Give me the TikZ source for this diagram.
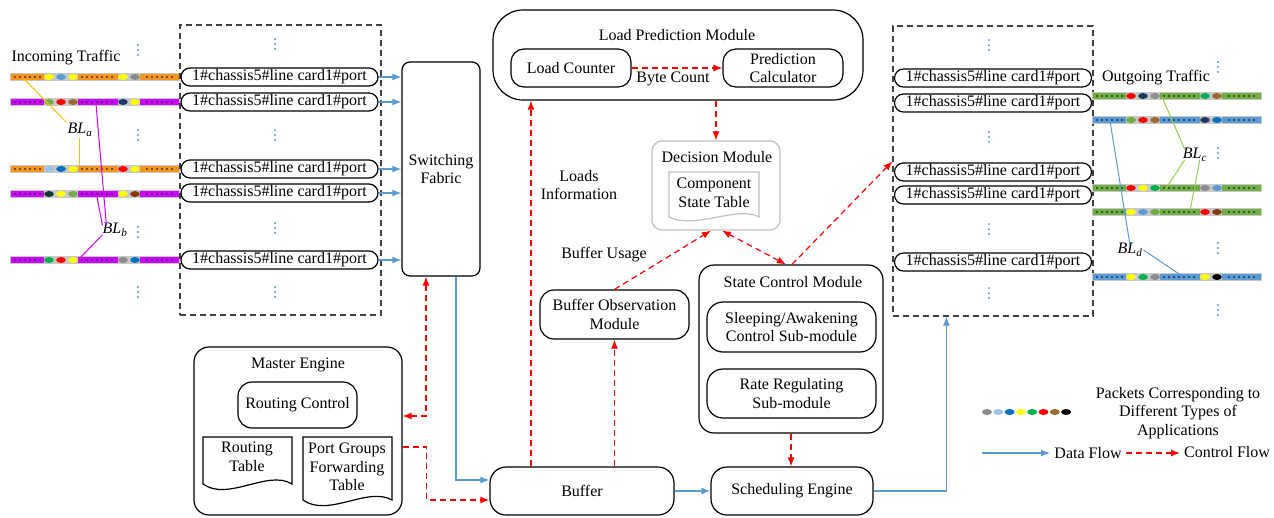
\documentclass[tikz,border=0pt]{standalone}
\usepackage{fontspec}
\setmainfont{Liberation Serif}
\usetikzlibrary{arrows.meta,calc}
\definecolor{dblue}{HTML}{5B9BD5}
\definecolor{cred}{HTML}{FF0000}
\definecolor{barout}{HTML}{C8C8C8}
\definecolor{corange}{HTML}{F7941E}
\definecolor{cpurple}{HTML}{CC00FF}
\definecolor{cgreen}{HTML}{70AD47}
\definecolor{cdgreen}{HTML}{00B050}
\definecolor{cyellow}{HTML}{FFFF00}
\definecolor{clblue}{HTML}{9DC3E6}
\definecolor{cmblue}{HTML}{5B9BD5}
\definecolor{cblue}{HTML}{0070C0}
\definecolor{cgray}{HTML}{8C8C8C}
\definecolor{cbrown}{HTML}{9C6B30}
\definecolor{cdbrown}{HTML}{843C0C}
\definecolor{cnavy}{HTML}{1F3864}
\definecolor{cteal}{HTML}{0D3B2E}
\definecolor{blaorange}{HTML}{FFC000}
\definecolor{blcgreen}{HTML}{92D050}
\definecolor{dashgray}{HTML}{404040}
\definecolor{decgray}{HTML}{BFBFBF}
\newcommand{\tbar}[8]{%
  \fill[barout] (#1,#2-3.6) rectangle (#1+170,#2+3.6);
  \fill[#3] (#1+1,#2-2.6) rectangle (#1+34,#2+2.6);
  \fill[#3] (#1+68,#2-2.6) rectangle (#1+108,#2+2.6);
  \fill[#3] (#1+130,#2-2.6) rectangle (#1+169,#2+2.6);
  \foreach \k in {0,...,5} \fill (#1+5+\k*5,#2) circle (0.9pt);
  \foreach \k in {0,...,6} \fill (#1+72+\k*5,#2) circle (0.9pt);
  \foreach \k in {0,...,5} \fill (#1+137+\k*5,#2) circle (0.9pt);
  \fill[#4] (#1+39,#2) ellipse [x radius=4.8pt, y radius=3pt];
  \fill[#5] (#1+51,#2) ellipse [x radius=4.8pt, y radius=3pt];
  \fill[#6] (#1+63,#2) ellipse [x radius=4.8pt, y radius=3pt];
  \fill[#7] (#1+113,#2) ellipse [x radius=4.8pt, y radius=3pt];
  \fill[#8] (#1+125,#2) ellipse [x radius=4.8pt, y radius=3pt];
}
\newcommand{\vdotsb}[2]{%
  \foreach \k in {-5,0,5} \fill[dblue] (#1,#2+\k) circle (1.1pt);
}
\begin{document}
\begin{tikzpicture}[x=1pt,y=-1pt,
  font=\fontsize{16}{18.5}\selectfont,
  box/.style={draw, line width=1.2pt, rounded corners=#1, align=center, inner sep=0pt},
  box/.default=13pt,
  port/.style={draw, line width=1.2pt, rounded corners=9pt, minimum width=197pt, minimum height=18pt, inner sep=0pt},
  lbl/.style={align=center, inner sep=1pt},
  dbox/.style={draw=dashgray, line width=1.2pt, dash pattern=on 6pt off 4pt, inner sep=0pt},
  data/.style={draw=dblue, line width=1.2pt, -{Latex[length=9pt,width=7pt]}},
  ctrl/.style={draw=cred, line width=1.2pt, dash pattern=on 6pt off 4pt, -{Latex[length=9pt,width=7pt]}},
  ctrlb/.style={draw=cred, line width=1.2pt, dash pattern=on 6pt off 4pt, {Latex[length=9pt,width=7pt]}-{Latex[length=9pt,width=7pt]}},
  docshape/.style={draw, line width=1.2pt},
]
\useasboundingbox (0,0) rectangle (1274,517);

% ---------- incoming traffic ----------
\node[lbl] (intr) at (66,58) {Incoming Traffic};
\vdotsb{138}{50}\vdotsb{138}{135}\vdotsb{138}{232}\vdotsb{138}{292}
\tbar{10}{77}{corange}{cyellow}{cmblue}{cyellow}{cyellow}{cgray}
\tbar{10}{102}{cpurple}{cgreen}{cred}{cbrown}{cnavy}{cyellow}
\tbar{10}{169}{corange}{clblue}{cblue}{cyellow}{cred}{cyellow}
\tbar{10}{194}{cpurple}{cteal}{cyellow}{cgreen}{cyellow}{cdbrown}
\tbar{10}{260}{cpurple}{cdgreen}{cred}{cyellow}{cgray}{cblue}

\node[lbl] (bla) at (80,130) {\itshape BL\textsubscript{a}};
\node[lbl] (blb) at (115,230) {\itshape BL\textsubscript{b}};
\coordinate (ba1) at (23,78);
\coordinate (ba3) at (79,166);
\coordinate (bb2) at (96,104);
\coordinate (bb4) at (97,197);
\coordinate (bb5) at (80,258);
\draw[blaorange, line width=1pt] (ba1) -- (bla.north west);
\draw[blaorange, line width=1pt] ([xshift=-1pt]bla.south) -- (ba3);
\draw[cpurple, line width=1pt] ([xshift=5pt,yshift=-3pt]blb.north west) -- (bb2);
\draw[cpurple, line width=1pt] ([xshift=1pt,yshift=-3pt]blb.north west) -- (bb4);
\draw[cpurple, line width=1pt] ([xshift=1pt,yshift=3pt]blb.south west) -- (bb5);

% ---------- left port box ----------
\node[dbox, minimum width=201pt, minimum height=290pt] (lbox) at (280.5,170) {};
\vdotsb{275}{44}\vdotsb{275}{135}\vdotsb{275}{228}\vdotsb{275}{292}
\node[port] (pl1) at (279.5,77) {1\#chassis5\#line card1\#port};
\node[port] (pl2) at (279.5,102) {1\#chassis5\#line card1\#port};
\node[port] (pl3) at (279.5,169) {1\#chassis5\#line card1\#port};
\node[port] (pl4) at (279.5,193) {1\#chassis5\#line card1\#port};
\node[port] (pl5) at (279.5,260) {1\#chassis5\#line card1\#port};

% ---------- switching fabric ----------
\node[box=8pt, minimum width=78pt, minimum height=214pt] (sf) at (441,169) {Switching\\Fabric};
\foreach \p in {pl1,pl2,pl3,pl4,pl5} \draw[data] (\p.east) -- (\p.east -| sf.west);

% ---------- master engine ----------
\node[box=15pt, minimum width=208pt, minimum height=168pt] (me) at (298,431) {};
\node[lbl] (metitle) at (298,365) {Master Engine};
\node[box=14pt, minimum width=119pt, minimum height=46pt] (rc) at (297.5,405) {Routing Control};
\draw[docshape] (203,437) -- (292,437) -- (292,484) .. controls (268,469) and (228,502) .. (203,484) -- cycle;
\node[lbl] (rt) at (247,457) {Routing\\Table};
\draw[docshape] (303,437) -- (392,437) -- (392,500) .. controls (368,486) and (328,518) .. (303,500) -- cycle;
\node[lbl] (pg) at (347,467) {Port Groups\\Forwarding\\Table};

% ---------- load prediction ----------
\node[box=30pt, minimum width=370pt, minimum height=90pt] (lpm) at (678,55) {};
\node[lbl] (lpmtitle) at (677,35) {Load Prediction Module};
\node[box=13pt, minimum width=120pt, minimum height=38pt] (lc) at (571,68) {Load Counter};
\node[box=13pt, minimum width=120pt, minimum height=38pt] (pc) at (783,68) {Prediction\\Calculator};
\draw[ctrl] (lc.east) -- (pc.west);
\node[lbl] (bc) at (673,79) {Byte Count};

% ---------- decision module ----------
\node[draw=decgray, line width=1.2pt, rounded corners=10pt, minimum width=128pt, minimum height=89pt, inner sep=0pt] (dm) at (716,185.5) {};
\node[lbl] (dmtitle) at (717,157) {Decision Module};
\draw[decgray, line width=1.2pt] (669,172) -- (759,172) -- (759,217) .. controls (738,205) and (695,230) .. (669,217) -- cycle;
\node[lbl] (cst) at (714,193) {Component\\State Table};
\draw[ctrl] (dm.north |- lpm.south) -- (dm.north);

% ---------- buffer, observation, scheduling ----------
\node[box=16pt, minimum width=184pt, minimum height=48pt] (buf) at (582,491) {Buffer};
\node[box=16pt, minimum width=162pt, minimum height=48pt] (sch) at (792,491) {Scheduling Engine};
\node[box=14pt, minimum width=149pt, minimum height=49pt] (bom) at (614.5,314.5) {Buffer Observation\\Module};
\node[lbl] (lil) at (579,185) {Loads\\Information};
\node[lbl] (bul) at (604,255) {Buffer Usage};

% ---------- state control ----------
\node[box=15pt, minimum width=184pt, minimum height=168pt] (scm) at (791,349) {};
\node[lbl] (scmtitle) at (793,282) {State Control Module};
\node[box=16pt, minimum width=169pt, minimum height=50pt] (sa) at (791.5,327) {Sleeping/Awakening\\Control Sub-module};
\node[box=16pt, minimum width=169pt, minimum height=49pt] (rr) at (791.5,393.5) {Rate Regulating\\Sub-module};

% ---------- right port box ----------
\node[dbox, minimum width=200pt, minimum height=290pt] (rbox) at (993,171) {};
\vdotsb{989}{45}\vdotsb{989}{137}\vdotsb{989}{229}\vdotsb{989}{293}
\node[port] (pr1) at (993,78) {1\#chassis5\#line card1\#port};
\node[port] (pr2) at (993,103) {1\#chassis5\#line card1\#port};
\node[port] (pr3) at (993,172) {1\#chassis5\#line card1\#port};
\node[port] (pr4) at (993,195) {1\#chassis5\#line card1\#port};
\node[port] (pr5) at (993,262) {1\#chassis5\#line card1\#port};

% ---------- outgoing traffic ----------
\node[lbl] (outr) at (1156,78) {Outgoing Traffic};
\vdotsb{1218}{67}\vdotsb{1218}{153}\vdotsb{1218}{248}\vdotsb{1218}{310}
\tbar{1092}{96}{cgreen}{cred}{cnavy}{cgray}{cdgreen}{cbrown}
\tbar{1092}{120}{cmblue}{cgreen}{cred}{cbrown}{cnavy}{cblue}
\tbar{1092}{188}{cgreen}{cred}{cyellow}{cdgreen}{cgray}{cmblue}
\tbar{1092}{212}{cgreen}{cyellow}{cmblue}{cgreen}{cred}{cdbrown}
\tbar{1092}{277}{cmblue}{cyellow}{cdgreen}{cgray}{cyellow}{black}

\node[lbl] (blc) at (1195,155) {\itshape BL\textsubscript{c}};
\node[lbl] (bld) at (1130,250) {\itshape BL\textsubscript{d}};
\coordinate (bc1) at (1162,97);
\coordinate (bc3) at (1165,190);
\coordinate (bc4) at (1190,211);
\coordinate (bd2) at (1110,121);
\coordinate (bd5) at (1182,276);
\draw[blcgreen, line width=1pt] ([xshift=3pt,yshift=-2pt]blc.north west) -- (bc1);
\draw[blcgreen, line width=1pt] ([xshift=3pt,yshift=3pt]blc.south west) -- (bc3);
\draw[blcgreen, line width=1pt] ([xshift=18pt,yshift=3pt]blc.south west) -- (bc4);
\draw[dblue, line width=1pt] ([yshift=-3pt]bld.north) -- (bd2);
\draw[dblue, line width=1pt] (bld.east) -- (bd5);

% ---------- connectors ----------
\draw[data] ([xshift=15pt]sf.south) |- ([yshift=11pt]buf.west);
\draw[ctrlb] ([xshift=-15pt]sf.south) |- ([yshift=15pt]me.east);
\draw[ctrl] ([yshift=-16pt]me.east) -- ++(24,0) |- ([yshift=-9pt]buf.west);
\draw[ctrl] ([xshift=-51pt]buf.north) -- ([xshift=-51pt]buf.north |- lpm.south);
\draw[ctrl] (bom.south |- buf.north) -- (bom.south);
\draw[ctrl] (bom.north) -- ([xshift=-5pt]dm.south);
\draw[ctrlb] ([xshift=-5pt]scm.north) -- ([xshift=6pt]dm.south);
\draw[ctrl] ([xshift=1pt]scm.north) -- ([yshift=-136pt]rbox.north west);
\draw[ctrl] (scm.south) -- (scm.south |- sch.north);
\draw[data] (buf.east) -- (sch.west);
\draw[data] (sch.east) -| ([xshift=54pt]rbox.south west);

% ---------- legend ----------
\foreach \c [count=\i from 0] in {cgray,clblue,cblue,cyellow,cdgreen,cred,cbrown,black}
  \fill[\c] (987+\i*11.3,412) ellipse [x radius=5pt, y radius=3pt];
\node[lbl] (legp) at (1178,413) {Packets Corresponding to\\Different Types of\\Applications};
\coordinate (ld1) at (982,453);
\coordinate (ld2) at (1050,453);
\coordinate (lc1) at (1126,453);
\coordinate (lc2) at (1180,453);
\draw[data] (ld1) -- (ld2);
\node[lbl] (ldt) at (1088,453) {Data Flow};
\draw[ctrl] (lc1) -- (lc2);
\node[lbl] (lct) at (1227,452) {Control Flow};
\end{tikzpicture}
\end{document}
